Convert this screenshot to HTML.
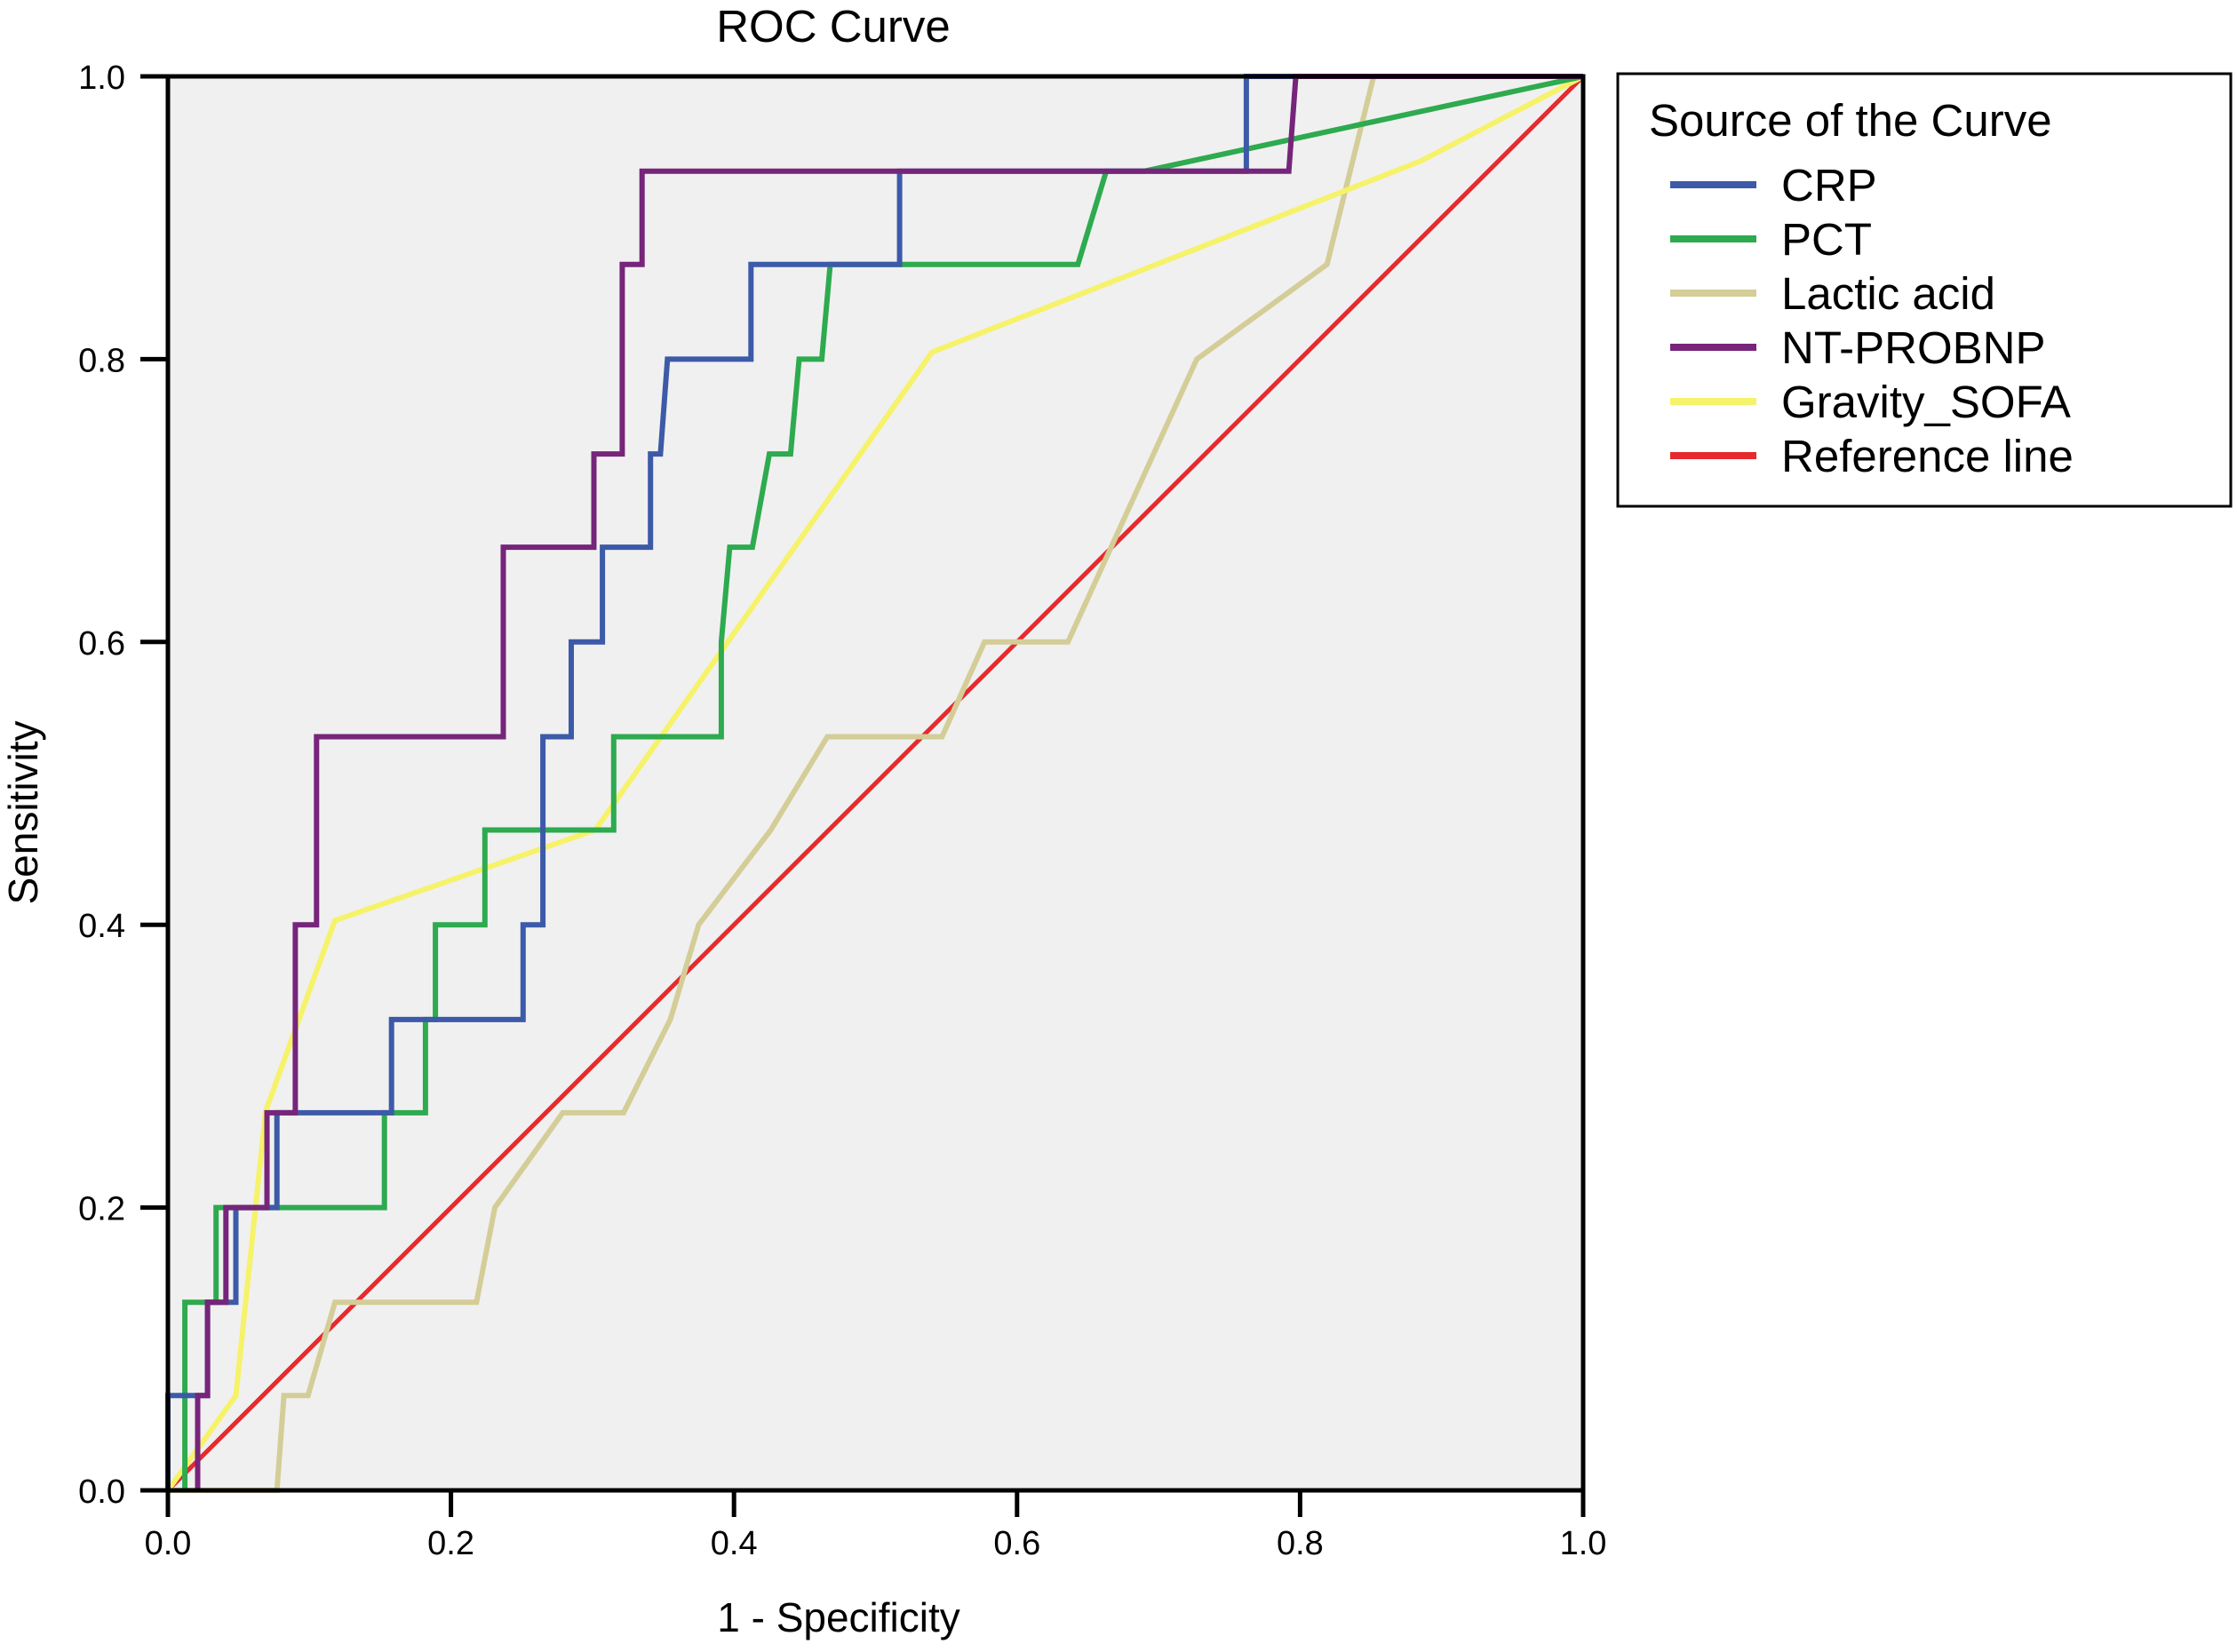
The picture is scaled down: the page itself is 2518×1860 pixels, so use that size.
<!DOCTYPE html>
<html><head><meta charset="utf-8"><style>
html,body{margin:0;padding:0;background:#fff;}
svg{display:block;font-family:"Liberation Sans",Arial,sans-serif;}
</style></head><body>
<svg id="chart" width="2518" height="1860" viewBox="0 0 2518 1860" xmlns="http://www.w3.org/2000/svg">
<rect x="189" y="86" width="1593" height="1592" fill="#f0f0f0"/>
<g id="series"></g>
<g id="axes"></g>
<text x="938" y="47" font-size="51" text-anchor="middle">ROC Curve</text>
<text x="944" y="1837" font-size="46" text-anchor="middle">1 - Specificity</text>
<text x="0" y="0" font-size="46" text-anchor="middle" transform="translate(42,915) rotate(-90)">Sensitivity</text>
<g>
<rect x="1821" y="83" width="690" height="487" fill="#fff" stroke="#000" stroke-width="3"/>
<text x="1856" y="153" font-size="51">Source of the Curve</text>
<g id="legend-entries"></g>
</g>
</svg>
<script>
const xTicks = [0, 0.2, 0.4, 0.6, 0.8, 1.0];
const yTicks = [0, 0.2, 0.4, 0.6, 0.8, 1.0];
const tickLabels = ["0.0", "0.2", "0.4", "0.6", "0.8", "1.0"];
const seriesNames = ["CRP", "PCT", "Lactic acid", "NT-PROBNP", "Gravity_SOFA", "Reference line"];
const crpFpr = [0,0,0.028,0.028,0.048,0.048,0.077,0.077,0.158,0.158,0.251,0.251,0.265,0.265,0.285,0.285,0.307,0.307,0.341,0.341,0.348,0.353,0.412,0.412,0.517,0.517,0.762,0.762,1];
const crpSens = [0,0.067,0.067,0.133,0.133,0.2,0.2,0.267,0.267,0.333,0.333,0.4,0.4,0.533,0.533,0.6,0.6,0.667,0.667,0.733,0.733,0.8,0.8,0.867,0.867,0.933,0.933,1,1];
const pctFpr = [0.012,0.012,0.034,0.034,0.153,0.153,0.182,0.182,0.189,0.189,0.224,0.224,0.315,0.315,0.391,0.391,0.397,0.413,0.425,0.440,0.446,0.462,0.468,0.643,0.663,0.69,1];
const pctSens = [0,0.133,0.133,0.2,0.2,0.267,0.267,0.333,0.333,0.4,0.4,0.467,0.467,0.533,0.533,0.6,0.667,0.667,0.733,0.733,0.8,0.8,0.867,0.867,0.933,0.933,1];
const lacticFpr = [0,0.077,0.082,0.099,0.118,0.218,0.231,0.279,0.322,0.355,0.375,0.426,0.466,0.547,0.577,0.636,0.727,0.819,0.852,1];
const lacticSens = [0,0,0.067,0.067,0.133,0.133,0.2,0.267,0.267,0.333,0.4,0.467,0.533,0.533,0.6,0.6,0.8,0.867,1,1];
const ntFpr = [0.021,0.021,0.028,0.028,0.041,0.041,0.070,0.070,0.090,0.090,0.105,0.105,0.237,0.237,0.301,0.301,0.321,0.321,0.335,0.335,0.792,0.797,1];
const ntSens = [0,0.067,0.067,0.133,0.133,0.2,0.2,0.267,0.267,0.4,0.4,0.533,0.533,0.667,0.667,0.733,0.733,0.867,0.867,0.933,0.933,1,1];
const sofaFpr = [0,0.048,0.069,0.118,0.302,0.540,0.885,1];
const sofaSens = [0,0.067,0.268,0.403,0.467,0.805,0.94,1];
const refFpr = [0,1];
const refSens = [0,1];

const X0=189, X1=1782, Y0=1678, Y1=86;
function sx(v){return X0+(X1-X0)*v;}
function sy(v){return Y0-(Y0-Y1)*v;}
const NS="http://www.w3.org/2000/svg";
const colors=["#3c5aa8","#2eaa4f","#d4cd97","#76257a","#f6f26a","#e62a2e"];
const xs=[crpFpr,pctFpr,lacticFpr,ntFpr,sofaFpr,refFpr];
const ys=[crpSens,pctSens,lacticSens,ntSens,sofaSens,refSens];
const keys=["crp","pct","lactic-acid","nt-probnp","gravity-sofa","reference"];
const order=[5,2,4,1,0,3];
const sg=document.getElementById("series");
order.forEach(i=>{
  const p=document.createElementNS(NS,"polyline");
  p.setAttribute("points",xs[i].map((v,j)=>sx(v).toFixed(1)+","+sy(ys[i][j]).toFixed(1)).join(" "));
  p.setAttribute("fill","none");
  p.setAttribute("stroke",colors[i]);
  p.setAttribute("stroke-width",i===5?"5":"6");
  p.setAttribute("stroke-linejoin","miter");
  
  
  sg.appendChild(p);
});
const ag=document.getElementById("axes");
const frame=document.createElementNS(NS,"path");
frame.setAttribute("d",`M${X0},${Y1}H${X1}V${Y0}H${X0}Z`);
frame.setAttribute("fill","none");frame.setAttribute("stroke","#000");frame.setAttribute("stroke-width","5");


ag.appendChild(frame);
xTicks.forEach((v,i)=>{
  const l=document.createElementNS(NS,"line");
  l.setAttribute("x1",sx(v));l.setAttribute("x2",sx(v));l.setAttribute("y1",Y0);l.setAttribute("y2",Y0+30);
  l.setAttribute("stroke","#000");l.setAttribute("stroke-width","5");
  
  
  ag.appendChild(l);
  const t=document.createElementNS(NS,"text");
  t.setAttribute("x",sx(v));t.setAttribute("y",1750);t.setAttribute("font-size","38");t.setAttribute("text-anchor","middle");
  t.textContent=tickLabels[i];
  
  
  ag.appendChild(t);
});
yTicks.forEach((v,i)=>{
  const l=document.createElementNS(NS,"line");
  l.setAttribute("x1",158);l.setAttribute("x2",X0);l.setAttribute("y1",sy(v));l.setAttribute("y2",sy(v));
  l.setAttribute("stroke","#000");l.setAttribute("stroke-width","5");
  
  
  ag.appendChild(l);
  const t=document.createElementNS(NS,"text");
  t.setAttribute("x",141);t.setAttribute("y",sy(v)+14);t.setAttribute("font-size","38");t.setAttribute("text-anchor","end");
  t.textContent=tickLabels[i];
  
  
  ag.appendChild(t);
});
const lg=document.getElementById("legend-entries");
seriesNames.forEach((n,i)=>{
  const base=226+i*61;
  const l=document.createElementNS(NS,"rect");
  l.setAttribute("x",1880);l.setAttribute("y",base-22);l.setAttribute("width",97);l.setAttribute("height",8);
  l.setAttribute("fill",colors[i]);
  
  
  lg.appendChild(l);
  const t=document.createElementNS(NS,"text");
  t.setAttribute("x",2005);t.setAttribute("y",base);t.setAttribute("font-size","51");
  t.textContent=n;
  
  
  lg.appendChild(t);
});
</script>
</body></html>
